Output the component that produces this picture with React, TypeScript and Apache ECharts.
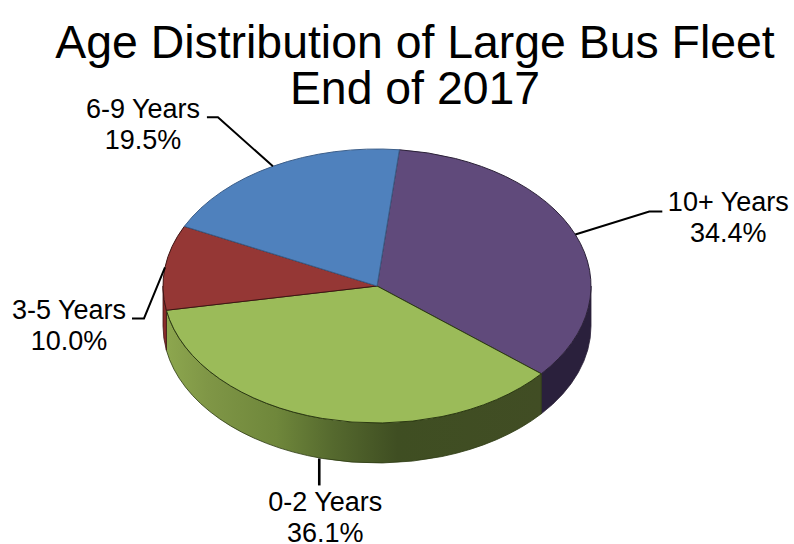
import React, { useEffect, useRef } from "react";
import * as echarts from "echarts";

const categories = ["10+ Years", "0-2 Years", "3-5 Years", "6-9 Years"];
const shares = [34.4, 36.1, 10.0, 19.5];
const titleLines = ["Age Distribution of Large Bus Fleet", "End of 2017"];

const topColors = ["#604a7b", "#9bbb59", "#953735", "#4f81bd"];
const edgeColors = ["#2b2138", "#2c3a12", "#3f1514", "#3d5f8a"];
const sideFills: any[] = [
  "#2a203c",
  {
    type: "linear", x: 163, y: 0, x2: 541, y2: 0, global: true,
    colorStops: [
      { offset: 0, color: "#8ea84f" },
      { offset: 0.12, color: "#7f9646" },
      { offset: 0.3, color: "#6f873b" },
      { offset: 0.45, color: "#55692e" },
      { offset: 0.62, color: "#3f4e22" },
      { offset: 1, color: "#414d24" },
    ],
  },
  "#8a2d2b",
  "#2f4d73",
];

// Pie geometry: a flattened disc with a visible rim, turned so the first slice starts just past 12 o'clock.
const pie = { cx: 377, cy: 286, rx: 214, ry: 137, depth: 40, startDeg: 6 };
const font = "Liberation Sans, Arial, sans-serif";

// Per-slice leader elbows and label centres, as offsets from where the leader leaves the rim.
const leaderOffsets = [
  { start: [0, 0], elbow: [74, -23], end: [87, -23], label: [153, -48], width: 2 },
  { start: [-3, 0], elbow: [-3, 27], end: [-3, 27], label: [3, 28], width: 2.6 },
  { start: [0, 0], elbow: [-21, 51], end: [-33, 51], label: [-96, 27], width: 2 },
  { start: [0, 0], elbow: [-55, -49], end: [-66, -49], label: [-130, -73], width: 2 },
];

const rad = (d: number) => (d * Math.PI) / 180;
const rimPoint = (deg: number, drop = 0): [number, number] => [
  pie.cx + pie.rx * Math.sin(rad(deg)),
  pie.cy - pie.ry * Math.cos(rad(deg)) + drop,
];

const total = shares.reduce((a, b) => a + b, 0);
const sliceSpan = (i: number): [number, number] => {
  const before = shares.slice(0, i).reduce((a, b) => a + b, 0);
  return [
    pie.startDeg + (before / total) * 360,
    pie.startDeg + ((before + shares[i]) / total) * 360,
  ];
};

const arcTo = (from: number, to: number, drop: number) => {
  const [x, y] = rimPoint(to, drop);
  const large = Math.abs(to - from) > 180 ? 1 : 0;
  const sweep = to > from ? 1 : 0;
  return `A${pie.rx} ${pie.ry} 0 ${large} ${sweep} ${x} ${y}`;
};

const renderTop = (params: any) => {
  const i = params.dataIndex;
  const [a0, a1] = sliceSpan(i);
  const [sx, sy] = rimPoint(a0);
  return {
    type: "path",
    shape: {
      pathData: `M${pie.cx} ${pie.cy}L${sx} ${sy}${arcTo(a0, a1, 0)}Z`,
    },
    style: { fill: topColors[i], stroke: edgeColors[i], lineWidth: 1 },
  };
};

// Only the part of the rim facing the viewer (90° to 270° clockwise from the top) is drawn.
const renderSide = (params: any) => {
  const i = params.dataIndex;
  const [a0, a1] = sliceSpan(i);
  const from = Math.max(a0, 90);
  const to = Math.min(a1, 270);
  if (to <= from) return null;
  const [sx, sy] = rimPoint(from);
  const [ex, ey] = rimPoint(to, pie.depth);
  return {
    type: "path",
    shape: {
      pathData:
        `M${sx} ${sy}${arcTo(from, to, 0)}L${ex} ${ey}` +
        `${arcTo(to, from, pie.depth)}Z`,
    },
    style: { fill: sideFills[i], stroke: edgeColors[i], lineWidth: 0.8 },
  };
};

const renderLabel = (params: any) => {
  const i = params.dataIndex;
  const [a0, a1] = sliceSpan(i);
  const mid = (a0 + a1) / 2;
  const drop = Math.cos(rad(mid)) < -0.5 ? pie.depth : 0;
  const [x, y] = rimPoint(mid, drop);
  const o = leaderOffsets[i];
  return {
    type: "group",
    children: [
      {
        type: "polyline",
        shape: {
          points: [
            [x + o.start[0], y + o.start[1]],
            [x + o.elbow[0], y + o.elbow[1]],
            [x + o.end[0], y + o.end[1]],
          ],
        },
        style: { fill: "none", stroke: "#000", lineWidth: o.width },
      },
      {
        type: "text",
        x: x + o.label[0],
        y: y + o.label[1],
        style: {
          text: `${categories[i]}\n${shares[i].toFixed(1)}%`,
          font: `27px ${font}`,
          lineHeight: 31,
          fill: "#000",
          align: "center",
          verticalAlign: "top",
        },
      },
    ],
  };
};

const shareData = shares.map((v) => [v]);

export default function App() {
  const ref = useRef<HTMLDivElement>(null);

  useEffect(() => {
    document.body.style.margin = "0";
    const chart = echarts.init(ref.current!, undefined, { renderer: "svg" });
    chart.setOption({
      animation: false,
      backgroundColor: "#ffffff",
      title: {
        text: titleLines.join("\n"),
        left: 410,
        top: 14,
        textAlign: "center",
        textStyle: {
          fontFamily: font,
          fontWeight: "normal",
          fontSize: 46.4,
          lineHeight: 46,
          color: "#000",
        },
      },
      series: [
        { type: "custom", coordinateSystem: "none", z: 1, renderItem: renderSide, data: shareData },
        { type: "custom", coordinateSystem: "none", z: 2, renderItem: renderTop, data: shareData },
        { type: "custom", coordinateSystem: "none", z: 3, renderItem: renderLabel, data: shareData },
      ],
    });
    return () => chart.dispose();
  }, []);

  return <div ref={ref} style={{ width: 794, height: 544 }} />;
}
